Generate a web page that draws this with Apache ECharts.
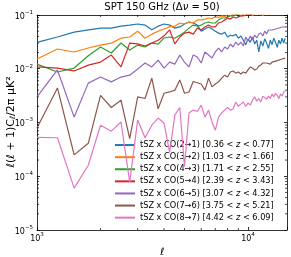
<!DOCTYPE html>
<html><head><meta charset="utf-8">
<script src="https://cdn.jsdelivr.net/npm/echarts@6/dist/echarts.min.js"></script>
<style>html,body{margin:0;padding:0;background:#fff}#c{width:291px;height:257px}</style>
</head><body><div id="c"></div>
<script>
const ell = [1000,1250,1500,1750,2000,2250,2500,2750,3000,3250,3500,3750,4000,4250,4500,4750,5000,5250,5500,5750,6000,6250,6500,6750,7000,7250,7500,7750,8000,8250,8500,8750,9000,9250,9500,9750,10000,10250,10500,10750,11000,11250,11500,11750,12000,12250,12500,12750,13000,13250,13500,13750,14000,14250,14500,14750,15000];

const co21 = [0.031,0.039,0.048,0.053,0.057,0.057,0.062,0.065,0.068,0.065,0.053,0.062,0.068,0.065,0.057,0.060,0.068,0.074,0.071,0.065,0.050,0.055,0.060,0.055,0.050,0.046,0.044,0.048,0.039,0.042,0.041,0.044,0.037,0.041,0.034,0.028,0.036,0.031,0.039,0.029,0.034,0.0205,0.033,0.0265,0.036,0.030,0.024,0.034,0.028,0.037,0.031,0.025,0.034,0.029,0.037,0.030,0.037];
const co32 = [0.0152,0.0233,0.0205,0.0243,0.0276,0.030,0.037,0.039,0.050,0.037,0.044,0.050,0.055,0.060,0.062,0.071,0.068,0.074,0.071,0.081,0.081,0.084,0.088,0.086,0.092,0.090,0.096,0.094,0.100,0.097,0.104,0.099,0.108,0.097,0.105,0.112,0.101,0.109,0.098,0.106,0.115,0.103,0.110,0.097,0.108,0.118,0.104,0.112,0.120,0.106,0.114,0.122,0.110,0.118,0.125,0.113,0.121];
const co43 = [0.0122,0.0087,0.0103,0.0175,0.0254,0.0196,0.0301,0.0223,0.0276,0.0254,0.0301,0.0288,0.0373,0.039,0.037,0.042,0.048,0.057,0.065,0.062,0.065,0.071,0.074,0.071,0.071,0.081,0.088,0.088,0.092,0.096,0.096,0.100,0.108,0.115,0.104,0.120,0.112,0.125,0.118,0.130,0.122,0.135,0.125,0.140,0.130,0.145,0.135,0.150,0.140,0.155,0.145,0.160,0.150,0.165,0.155,0.170,0.160];
const co54 = [0.0108,0.0103,0.0091,0.0117,0.0133,0.018,0.0108,0.030,0.029,0.0265,0.030,0.034,0.041,0.053,0.029,0.039,0.046,0.048,0.044,0.057,0.0526,0.060,0.065,0.060,0.060,0.071,0.074,0.081,0.088,0.084,0.092,0.088,0.092,0.096,0.096,0.100,0.108,0.102,0.115,0.106,0.120,0.110,0.125,0.115,0.130,0.120,0.135,0.125,0.140,0.130,0.145,0.135,0.150,0.140,0.155,0.145,0.160];
const co65 = [0.0030,0.0095,0.00126,0.0054,0.0070,0.0057,0.0070,0.0076,0.0099,0.0128,0.0108,0.0145,0.0103,0.0133,0.0122,0.0180,0.0133,0.0108,0.0180,0.0165,0.0128,0.0205,0.0180,0.0158,0.0205,0.0243,0.0205,0.0254,0.0233,0.0288,0.0254,0.0314,0.0276,0.0314,0.0265,0.0389,0.0328,0.0407,0.0342,0.0424,0.0373,0.0443,0.0462,0.0407,0.0504,0.0443,0.0526,0.0483,0.0526,0.0504,0.0549,0.0526,0.0573,0.0549,0.0598,0.0573,0.0598];
const co76 = [0.00079,0.0044,0.00025,0.00041,0.0032,0.0019,0.0026,0.0005,0.0030,0.0028,0.0067,0.0018,0.0035,0.0037,0.0040,0.0062,0.0035,0.0037,0.0058,0.0055,0.0052,0.0040,0.0067,0.0046,0.0052,0.0057,0.0067,0.0076,0.0070,0.0087,0.0091,0.0083,0.0087,0.0080,0.0087,0.0083,0.0095,0.0108,0.0103,0.0095,0.0099,0.0112,0.0117,0.0128,0.0122,0.0128,0.0139,0.0122,0.0133,0.0128,0.0139,0.0133,0.0145,0.0139,0.0152,0.0145,0.0158];
const co87 = [0.00053,0.00052,0.000060,0.00016,0.00089,0.00069,0.00102,0.000078,0.00111,0.00052,0.00089,0.00121,0.00097,0.00028,0.00137,0.0019,0.00015,0.0015,0.0017,0.0016,0.0021,0.00126,0.0017,0.00102,0.00072,0.00126,0.0015,0.0017,0.0019,0.0017,0.0018,0.0024,0.0020,0.0022,0.0024,0.0020,0.0023,0.0021,0.0026,0.0030,0.0025,0.0028,0.0024,0.0031,0.0032,0.0027,0.0031,0.0028,0.0034,0.0030,0.0035,0.0032,0.0028,0.0034,0.0031,0.0037,0.0038];

const names = [
  'tSZ x CO(2→1) [0.36 < z < 0.77]',
  'tSZ x CO(3→2) [1.03 < z < 1.66]',
  'tSZ x CO(4→3) [1.71 < z < 2.55]',
  'tSZ x CO(5→4) [2.39 < z < 3.43]',
  'tSZ x CO(6→5) [3.07 < z < 4.32]',
  'tSZ x CO(7→6) [3.75 < z < 5.21]',
  'tSZ x CO(8→7) [4.42 < z < 6.09]'
];
const colors = ['#1f77b4','#ff7f0e','#2ca02c','#d62728','#9467bd','#8c564b','#e377c2'];
const seriesData = [co21, co32, co43, co54, co65, co76, co87];

const xMinorTicks = [2000,3000,4000,5000,6000,7000,8000,9000];
const yMinorTicks = [2e-5,3e-5,4e-5,5e-5,6e-5,7e-5,8e-5,9e-5,2e-4,3e-4,4e-4,5e-4,6e-4,7e-4,8e-4,9e-4,2e-3,3e-3,4e-3,5e-3,6e-3,7e-3,8e-3,9e-3,2e-2,3e-2,4e-2,5e-2,6e-2,7e-2,8e-2,9e-2];

const X_MIN = 1000, X_MAX = 15300, Y_MIN = 1e-5, Y_MAX = 0.1;
const FONT = 'DejaVu Sans';
function powLabel(v){
  const e = Math.log10(v); const r = Math.round(e);
  if (Math.abs(e - r) > 1e-6) return '';
  return '{n|10}{e|' + String(r).replace('-', '−') + '}';
}
const labelRich = {
  n:{fontFamily:FONT, fontSize:8, color:'#000', lineHeight:11, verticalAlign:'bottom'},
  e:{fontFamily:FONT, fontSize:5.5, color:'#000', lineHeight:7, verticalAlign:'top'}
};
const frame = {show:true, lineStyle:{color:'#000', width:0.8}};
const tick = {show:true, inside:true, length:3, lineStyle:{color:'#000', width:0.8}};

const lineSeries = seriesData.map((d, i) => ({
  name: names[i], type:'line', symbol:'none', clip:true,
  data: ell.map((l, j) => [l, d[j]]),
  lineStyle:{color:colors[i], width:1.2}, itemStyle:{color:colors[i]},
  xAxisIndex:0, yAxisIndex:0, z:2+i
}));

const tickStyle = {stroke:'#000', lineWidth:0.7};
const xMinorSeries = {
  type:'custom', silent:true, xAxisIndex:0, yAxisIndex:0, z:10,
  data: xMinorTicks.map(v => [v, Y_MIN]),
  renderItem: (p, api) => {
    const v = api.value(0);
    const b = api.coord([v, Y_MIN]), t = api.coord([v, Y_MAX]);
    return {type:'group', children:[
      {type:'line', shape:{x1:b[0], y1:b[1], x2:b[0], y2:b[1]-2}, style:tickStyle},
      {type:'line', shape:{x1:t[0], y1:t[1], x2:t[0], y2:t[1]+2}, style:tickStyle}
    ]};
  }
};
const yMinorSeries = {
  type:'custom', silent:true, xAxisIndex:0, yAxisIndex:0, z:10,
  data: yMinorTicks.map(v => [X_MIN, v]),
  renderItem: (p, api) => {
    const v = api.value(1);
    const l = api.coord([X_MIN, v]), r = api.coord([X_MAX, v]);
    return {type:'group', children:[
      {type:'line', shape:{x1:l[0], y1:l[1], x2:l[0]+2, y2:l[1]}, style:tickStyle},
      {type:'line', shape:{x1:r[0], y1:r[1], x2:r[0]-2, y2:r[1]}, style:tickStyle}
    ]};
  }
};

const chart = echarts.init(document.getElementById('c'), null, {renderer:'canvas'});
chart.setOption({
  animation:false,
  backgroundColor:'#fff',
  textStyle:{fontFamily:FONT},
  grid:{left:37, right:4, top:15, bottom:27, containLabel:false, outerBoundsMode:'none'},
  graphic:[{
    type:'text', x:162, y:7,
    style:{text:'SPT 150 GHz (Δ{i|ν} = 50)', align:'center', verticalAlign:'middle',
      fontFamily:FONT, fontSize:10, fill:'#000',
      rich:{i:{fontStyle:'italic', fontFamily:FONT, fontSize:10, fill:'#000'}}}
  },{
    type:'text', x:11, y:122, rotation:Math.PI/2,
    style:{text:'{a|ℓ}{b|(}{a|ℓ}{b| + 1)C}{s|ℓ}{b|/2π μK²}', align:'center', verticalAlign:'middle',
      fontFamily:FONT, fontSize:11, fill:'#000',
      rich:{
        a:{fontFamily:FONT, fontStyle:'italic', fontSize:11, fill:'#000', lineHeight:13},
        b:{fontFamily:FONT, fontSize:11, fill:'#000', lineHeight:13},
        s:{fontFamily:FONT, fontStyle:'italic', fontSize:7.5, fill:'#000', lineHeight:6, verticalAlign:'bottom'}
      }}
  }],
  legend:{
    data:names, orient:'vertical', left:115, top:141, padding:0,
    itemWidth:20, itemHeight:2, itemGap:4, icon:'rect',
    formatter: n => n.replace(' z ', ' {i|z} '),
    textStyle:{fontFamily:FONT, fontSize:8.2, color:'#000', lineHeight:8.1,
      rich:{i:{fontStyle:'italic', fontFamily:FONT, fontSize:8.2, color:'#000', lineHeight:8.1}}}
  },
  xAxis:[
    {type:'log', logBase:10, min:X_MIN, max:X_MAX, position:'bottom',
     axisLine:frame, axisTick:tick, splitLine:{show:false},
     axisLabel:{formatter:powLabel, rich:labelRich, fontFamily:FONT, fontSize:8, color:'#000', margin:2},
     name:'ℓ', nameLocation:'middle', nameGap:12,
     nameTextStyle:{fontFamily:FONT, fontStyle:'italic', fontSize:10, color:'#000'}},
    {type:'log', logBase:10, min:X_MIN, max:X_MAX, position:'top',
     axisLine:frame, axisTick:tick, splitLine:{show:false}, axisLabel:{show:false}}
  ],
  yAxis:[
    {type:'log', logBase:10, min:Y_MIN, max:Y_MAX, position:'left',
     axisLine:frame, axisTick:tick, splitLine:{show:false},
     axisLabel:{formatter:powLabel, rich:labelRich, fontFamily:FONT, fontSize:8, color:'#000', margin:4}},
    {type:'log', logBase:10, min:Y_MIN, max:Y_MAX, position:'right',
     axisLine:frame, axisTick:tick, splitLine:{show:false}, axisLabel:{show:false}}
  ],
  series: lineSeries.concat([xMinorSeries, yMinorSeries])
});
</script></body></html>
